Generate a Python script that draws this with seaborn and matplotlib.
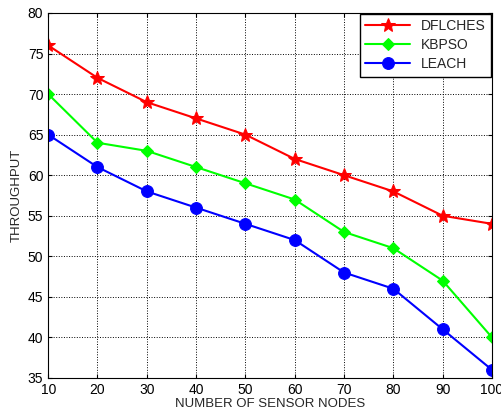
import pandas as pd
import seaborn as sns
import matplotlib
matplotlib.use("Agg")
import matplotlib.pyplot as plt

# values
nodes = [10, 20, 30, 40, 50, 60, 70, 80, 90, 100]
dflches = [76, 72, 69, 67, 65, 62, 60, 58, 55, 54]
kbpso = [70, 64, 63, 61, 59, 57, 53, 51, 47, 40]
leach = [65, 61, 58, 56, 54, 52, 48, 46, 41, 36]

df = pd.DataFrame({"nodes": nodes, "DFLCHES": dflches, "KBPSO": kbpso, "LEACH": leach})
df = df.melt(id_vars="nodes", var_name="method", value_name="throughput")

sns.set_style("ticks")
plt.rcParams["font.family"] = ["Liberation Sans", "DejaVu Sans"]

fig = plt.figure(figsize=(5.02, 4.19), dpi=100)
ax = fig.add_axes([0.096, 0.098, 0.884, 0.871])

palette = {"DFLCHES": "#ff0000", "KBPSO": "#00ff00", "LEACH": "#0000ff"}
markers = {"DFLCHES": "*", "KBPSO": "D", "LEACH": "o"}
sizes = {"DFLCHES": 10, "KBPSO": 6.5, "LEACH": 8.5}

for name in ["DFLCHES", "KBPSO", "LEACH"]:
    sub = df[df.method == name]
    sns.lineplot(data=sub, x="nodes", y="throughput", color=palette[name],
                 marker=markers[name], markersize=sizes[name], markeredgecolor=palette[name],
                 linewidth=1.5, label=name, ax=ax)

ax.set_xlim(10, 100)
ax.set_ylim(35, 80)
ax.set_xticks(range(10, 101, 10))
ax.set_yticks(range(35, 81, 5))
ax.grid(True, linestyle=":", color="black", linewidth=0.7)
ax.tick_params(direction="in", top=True, right=True, labelsize=10, length=3, colors="black")
for s in ax.spines.values():
    s.set_color("black")
    s.set_linewidth(0.8)
    s.set_visible(True)

ax.set_xlabel("NUMBER OF SENSOR NODES", fontsize=9.5, labelpad=1)
ax.set_ylabel("THROUGHPUT", fontsize=9.5, labelpad=4)

leg = ax.legend(loc="upper right", fontsize=10, frameon=True, fancybox=False,
                edgecolor="black", framealpha=1, borderaxespad=0.05,
                handlelength=3.2, labelspacing=0.35)
leg.get_frame().set_linewidth(1.0)

fig.savefig("out.png", dpi=100)
